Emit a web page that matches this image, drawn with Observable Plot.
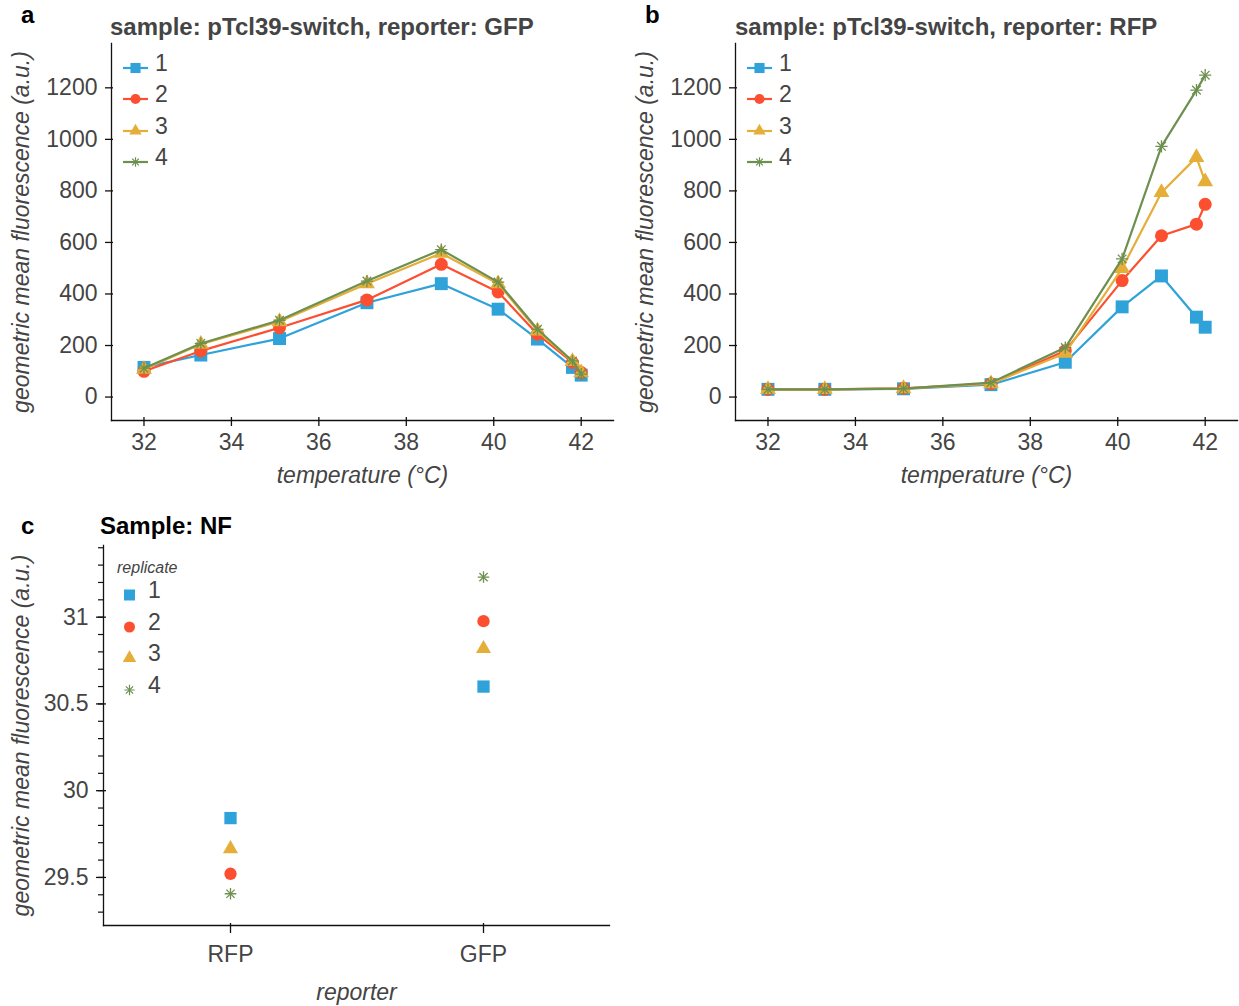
<!DOCTYPE html>
<html>
<head>
<meta charset="utf-8">
<script src="https://cdn.jsdelivr.net/npm/d3@7"></script>
<script src="https://cdn.jsdelivr.net/npm/@observablehq/plot@0.6"></script>
<style>
  html, body { margin: 0; padding: 0; background: #fff; }
  #fig { position: relative; width: 1239px; height: 1006px; overflow: hidden; background: #fff;
         font-family: "Liberation Sans", Arial, Helvetica, sans-serif; }
  #fig > svg, #fig > .abs { position: absolute; }
  .abs { white-space: nowrap; }
  .letter { font-weight: bold; font-size: 24px; line-height: 24px; color: #000; }
  .title { font-weight: bold; font-size: 24px; line-height: 24px; color: #444; }
  .title.black { color: #000; }
  .leglabel { font-size: 23px; line-height: 18px; color: #444; }
  .legtitle { font-size: 16px; line-height: 14px; color: #444; font-style: italic; }
</style>
</head>
<body>
<div id="fig"></div>
<script>
// ---------------- data ----------------
const temperatures = [32, 33.3, 35.1, 37.1, 38.8, 40.1, 41.0, 41.8, 42.0];
const replicates = ["1", "2", "3", "4"];

// panel a: sample pTcl39-switch, reporter GFP
const gfpRep1 = [115, 163, 227, 366, 440, 341, 225, 115, 85];
const gfpRep2 = [100, 179, 269, 377, 515, 408, 244, 134, 95];
const gfpRep3 = [108, 205, 293, 440, 558, 440, 257, 138, 95];
const gfpRep4 = [112, 208, 298, 450, 572, 446, 263, 140, 89];

// panel b: sample pTcl39-switch, reporter RFP
const rfpRep1 = [30, 30, 32, 48, 135, 350, 470, 310, 271];
const rfpRep2 = [30, 30, 34, 52, 180, 452, 626, 671, 748];
const rfpRep3 = [30, 30, 33, 52, 170, 499, 794, 930, 836];
const rfpRep4 = [30, 30, 33, 56, 192, 536, 973, 1191, 1249];

// panel c: sample NF
const reporters = ["RFP", "GFP"];
const nfRep1 = [29.842, 30.600];
const nfRep2 = [29.521, 30.977];
const nfRep3 = [29.665, 30.818];
const nfRep4 = [29.406, 31.231];

// ticks and domains
const tempTicks = [32, 34, 36, 38, 40, 42];
const fluorTicks = [0, 200, 400, 600, 800, 1000, 1200];
const nfMajorTicks = [29.5, 30, 30.5, 31];
const nfMinorTicks = [29.3, 29.4, 29.5, 29.6, 29.7, 29.8, 29.9, 30, 30.1, 30.2, 30.3, 30.4, 30.5, 30.6, 30.7, 30.8, 30.9, 31, 31.1, 31.2, 31.3, 31.4];
const tempDomain = [31.257, 42.739];
const fluorDomain = [-91, 1372];
const nfDomain = [29.223, 31.413];

// ---------------- styles ----------------
const FONT = '"Liberation Sans", Arial, Helvetica, sans-serif';
const COLORS = ["#30a2da", "#fc4f30", "#e5ae38", "#6d904f"];
const AXIS = "#111";
const TEXT = "#444";
const markerSpecs = [
  {symbols: ["square"], r: 7.3, filled: true},
  {symbols: ["circle"], r: 6.5, filled: true},
  {symbols: ["triangle"], r: 5.9, filled: true},
  {symbols: ["plus", "times"], r: 4.0, filled: false}
];
const d3Symbols = {square: d3.symbolSquare, circle: d3.symbolCircle, triangle: d3.symbolTriangle, plus: d3.symbolPlus, times: d3.symbolTimes};

function markerMarks(data, x, y, i, k) {
  const s = markerSpecs[i];
  return s.symbols.map(sym => Plot.dot(data, {
    x, y, symbol: sym, r: s.r * k,
    fill: s.filled ? COLORS[i] : "none",
    stroke: s.filled ? "none" : COLORS[i],
    strokeWidth: 1.3
  }));
}

const fig = document.getElementById("fig");

function place(el, left, top) {
  el.style.position = "absolute";
  el.style.left = left + "px";
  el.style.top = top + "px";
  fig.appendChild(el);
  return el;
}
function addText(text, cls, left, top) {
  const d = document.createElement("div");
  d.className = "abs " + cls;
  d.textContent = text;
  return place(d, left, top);
}

// ---------------- panels a and b ----------------
function tempPanel(series) {
  const marks = [
    Plot.frame({anchor: "left", stroke: AXIS, strokeWidth: 1.3}),
    Plot.frame({anchor: "bottom", stroke: AXIS, strokeWidth: 1.3}),
    Plot.axisY(fluorTicks, {tickSize: 8, dx: 2, fill: "none", label: null, stroke: AXIS, strokeWidth: 1.3}),
    Plot.axisY(fluorTicks, {tickSize: 0, tickPadding: 14, tickFormat: d3.format("d"), label: null, fill: TEXT}),
    Plot.axisY([], {tickSize: 0, label: "geometric mean fluorescence (a.u.)", labelArrow: "none", labelAnchor: "center", labelOffset: 99, fill: TEXT, fontStyle: "italic"}),
    Plot.axisX(tempTicks, {tickSize: 9, dy: -3, fill: "none", label: null, stroke: AXIS, strokeWidth: 1.3}),
    Plot.axisX(tempTicks, {tickSize: 0, tickPadding: 13, tickFormat: d3.format("d"), label: null, fill: TEXT}),
    Plot.axisX([], {tickSize: 0, label: "temperature (°C)", labelArrow: "none", labelAnchor: "center", labelOffset: 62, fill: TEXT, fontStyle: "italic"})
  ];
  series.forEach((vals, i) => {
    const rows = temperatures.map((t, j) => ({temperature: t, value: vals[j], replicate: replicates[i]}));
    marks.push(Plot.line(rows, {x: "temperature", y: "value", stroke: COLORS[i], strokeWidth: 2.2}));
    marks.push(...markerMarks(rows, "temperature", "value", i, 1));
  });
  return marks;
}

const svgA = Plot.plot({
  width: 620, height: 500,
  marginLeft: 111, marginRight: 7, marginTop: 43, marginBottom: 80,
  style: {fontFamily: FONT, fontSize: "23px", color: TEXT, background: "transparent", overflow: "visible"},
  x: {domain: tempDomain},
  y: {domain: fluorDomain},
  marks: tempPanel([gfpRep1, gfpRep2, gfpRep3, gfpRep4])
});
place(svgA, 0, 0);

const svgB = Plot.plot({
  width: 615, height: 500,
  marginLeft: 111, marginRight: 2, marginTop: 43, marginBottom: 80,
  style: {fontFamily: FONT, fontSize: "23px", color: TEXT, background: "transparent", overflow: "visible"},
  x: {domain: tempDomain},
  y: {domain: fluorDomain},
  marks: tempPanel([rfpRep1, rfpRep2, rfpRep3, rfpRep4])
});
place(svgB, 624, 0);

// ---------------- panel c ----------------
const nfSeries = [nfRep1, nfRep2, nfRep3, nfRep4];
const marksC = [
  Plot.frame({anchor: "left", stroke: AXIS, strokeWidth: 1.3}),
  Plot.frame({anchor: "bottom", stroke: AXIS, strokeWidth: 1.3}),
  Plot.axisY(nfMinorTicks, {tickSize: 5, dx: 0, fill: "none", label: null, stroke: AXIS, strokeWidth: 1.2}),
  Plot.axisY(nfMajorTicks, {tickSize: 10, dx: 3, fill: "none", label: null, stroke: AXIS, strokeWidth: 1.3}),
  Plot.axisY(nfMajorTicks, {tickSize: 0, tickPadding: 15, tickFormat: d => String(d), label: null, fill: TEXT}),
  Plot.axisY([], {tickSize: 0, label: "geometric mean fluorescence (a.u.)", labelArrow: "none", labelAnchor: "center", labelOffset: 91, fill: TEXT, fontStyle: "italic"}),
  Plot.axisX(reporters, {tickSize: 10, dy: -2, fill: "none", label: null, stroke: AXIS, strokeWidth: 1.3}),
  Plot.axisX(reporters, {tickSize: 0, tickPadding: 20, label: null, fill: TEXT}),
  Plot.axisX([], {tickSize: 0, label: "reporter", labelArrow: "none", labelAnchor: "center", labelOffset: 74, fill: TEXT, fontStyle: "italic"})
];
nfSeries.forEach((vals, i) => {
  const rows = reporters.map((r, j) => ({reporter: r, value: vals[j], replicate: replicates[i]}));
  marksC.push(...markerMarks(rows, "reporter", "value", i, 0.95));
});
const svgC = Plot.plot({
  width: 620, height: 506,
  marginLeft: 103, marginRight: 11, marginTop: 45, marginBottom: 81,
  style: {fontFamily: FONT, fontSize: "23px", color: TEXT, background: "transparent", overflow: "visible"},
  x: {type: "point", domain: reporters, padding: 0.5},
  y: {domain: nfDomain},
  marks: marksC
});
place(svgC, 0, 500);

// ---------------- titles ----------------
addText("a", "letter", 21, 3);
addText("sample: pTcl39-switch, reporter: GFP", "title", 110, 15);
addText("b", "letter", 645, 3);
addText("sample: pTcl39-switch, reporter: RFP", "title", 735, 15);
addText("c", "letter", 21, 514);
addText("Sample: NF", "title black", 100, 514);

// ---------------- legends ----------------
function legendSwatch(i, withLine, k) {
  const ns = "http://www.w3.org/2000/svg";
  const svg = document.createElementNS(ns, "svg");
  svg.setAttribute("width", 30);
  svg.setAttribute("height", 20);
  svg.style.overflow = "visible";
  if (withLine) {
    const ln = document.createElementNS(ns, "line");
    ln.setAttribute("x1", 2); ln.setAttribute("x2", 27);
    ln.setAttribute("y1", 10); ln.setAttribute("y2", 10);
    ln.setAttribute("stroke", COLORS[i]); ln.setAttribute("stroke-width", 2.2);
    svg.appendChild(ln);
  }
  const s = markerSpecs[i];
  s.symbols.forEach(sym => {
    const p = document.createElementNS(ns, "path");
    const r = s.r * k;
    p.setAttribute("d", d3.symbol(d3Symbols[sym], Math.PI * r * r)());
    p.setAttribute("transform", "translate(14.5,10)");
    if (s.filled) { p.setAttribute("fill", COLORS[i]); }
    else { p.setAttribute("fill", "none"); p.setAttribute("stroke", COLORS[i]); p.setAttribute("stroke-width", 1.2); }
    svg.appendChild(p);
  });
  return svg;
}

function lineLegend(offsetX) {
  const rowsY = [67.5, 99, 130.5, 162];
  replicates.forEach((rep, i) => {
    place(legendSwatch(i, true, 0.78), offsetX + 121, rowsY[i] - 10);
    addText(rep, "leglabel", offsetX + 155, rowsY[i] - 5 - 8.8);
  });
}
lineLegend(0);
lineLegend(624);

addText("replicate", "legtitle", 117, 561);
[595, 627, 658, 690].forEach((y, i) => {
  place(legendSwatch(i, false, 0.85), 129 - 14.5, y - 10);
  addText(replicates[i], "leglabel", 148, y - 5 - 8.8);
});
</script>
</body>
</html>
